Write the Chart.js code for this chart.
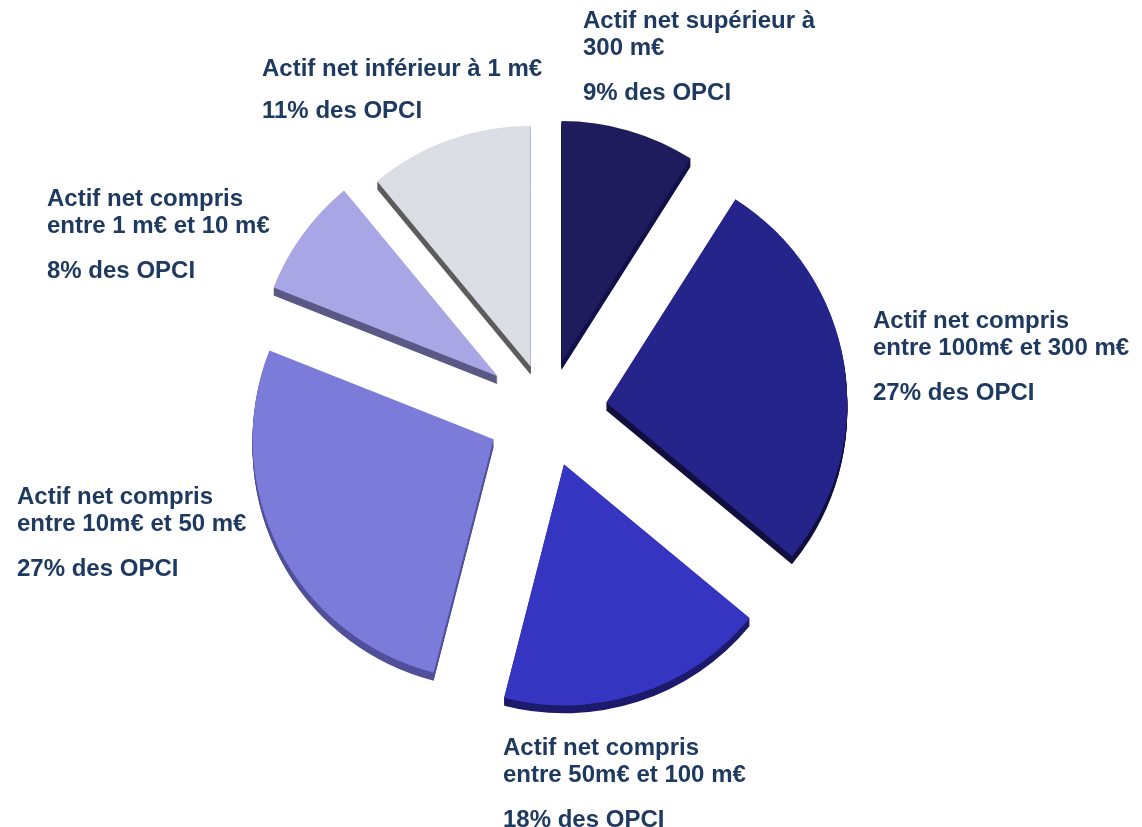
<!DOCTYPE html>
<html>
<head>
<meta charset="utf-8">
<script src="https://cdn.jsdelivr.net/npm/chart.js@4.4.1/dist/chart.umd.min.js"></script>
<style>
  html, body { margin: 0; padding: 0; background: #fff; }
</style>
</head>
<body>
<canvas id="myChart" width="1142" height="827"></canvas>
<script>
// slices, clockwise from 12 o'clock
const categories = [
  "Actif net supérieur à 300 m€",
  "Actif net compris entre 100m€ et 300 m€",
  "Actif net compris entre 50m€ et 100 m€",
  "Actif net compris entre 10m€ et 50 m€",
  "Actif net compris entre 1 m€ et 10 m€",
  "Actif net inférieur à 1 m€",
];
const shares = [9, 27, 18, 27, 8, 11];

const labelLines = [
  ["Actif net supérieur à", "300 m€"],
  ["Actif net compris", "entre 100m€ et 300 m€"],
  ["Actif net compris", "entre 50m€ et 100 m€"],
  ["Actif net compris", "entre 10m€ et 50 m€"],
  ["Actif net compris", "entre 1 m€ et 10 m€"],
  ["Actif net inférieur à 1 m€"],
];

// styling
const sliceColors = ["#1f1c5e", "#25248a", "#3535c2", "#7b7bd9", "#a9a6e6", "#dadde4"];
const sideColors = ["#12104a", "#100f3e", "#1c1a6b", "#4f4f9a", "#5a5884", "#5c5c5c"];
const explode = [52, 60, 55, 60, 61, 48];
const depth = 8;
const labelPos = [[583, 28], [873, 328], [503, 755], [17, 504], [47, 206], [262, 76]];
const textColor = "#1f3a60";

function shift(arc, i) {
  const mid = (arc.startAngle + arc.endAngle) / 2;
  return [Math.cos(mid) * explode[i], Math.sin(mid) * explode[i]];
}

const explode3d = {
  id: "explode3d",
  beforeDatasetDraw(chart, args) {
    const ctx = chart.ctx;
    const arcs = args.meta.data;
    // thickness first
    arcs.forEach((arc, i) => {
      const [dx, dy] = shift(arc, i);
      ctx.save();
      ctx.fillStyle = sideColors[i];
      for (let k = 1; k <= depth; k++) {
        ctx.beginPath();
        ctx.moveTo(arc.x + dx, arc.y + dy + k);
        ctx.arc(arc.x + dx, arc.y + dy + k, arc.outerRadius, arc.startAngle, arc.endAngle);
        ctx.closePath();
        ctx.fill();
      }
      ctx.restore();
    });
    // then the top faces, drawn by the arc elements themselves
    arcs.forEach((arc, i) => {
      const [dx, dy] = shift(arc, i);
      ctx.save();
      ctx.translate(dx, dy);
      arc.draw(ctx);
      ctx.restore();
    });
    return false;
  },
};

const sliceLabels = {
  id: "sliceLabels",
  afterDraw(chart) {
    const ctx = chart.ctx;
    ctx.save();
    ctx.font = "bold 24px 'Liberation Sans', Arial, sans-serif";
    ctx.fillStyle = textColor;
    ctx.textBaseline = "alphabetic";
    labelLines.forEach((lines, i) => {
      const [x, y] = labelPos[i];
      lines.forEach((line, j) => ctx.fillText(line, x, y + j * 27));
      const lastY = y + (lines.length - 1) * 27;
      ctx.fillText(shares[i] + "% des OPCI", x, lastY + (lines.length > 1 ? 45 : 42));
    });
    ctx.restore();
  },
};

new Chart(document.getElementById("myChart"), {
  type: "pie",
  data: {
    labels: categories,
    datasets: [
      {
        data: shares,
        backgroundColor: sliceColors,
        borderWidth: 0,
      },
    ],
  },
  options: {
    responsive: false,
    animation: false,
    events: [],
    layout: { padding: { left: 306, right: 354, top: 171, bottom: 174 } },
    plugins: {
      legend: { display: false },
      tooltip: { enabled: false },
    },
  },
  plugins: [explode3d, sliceLabels],
});
</script>
</body>
</html>
